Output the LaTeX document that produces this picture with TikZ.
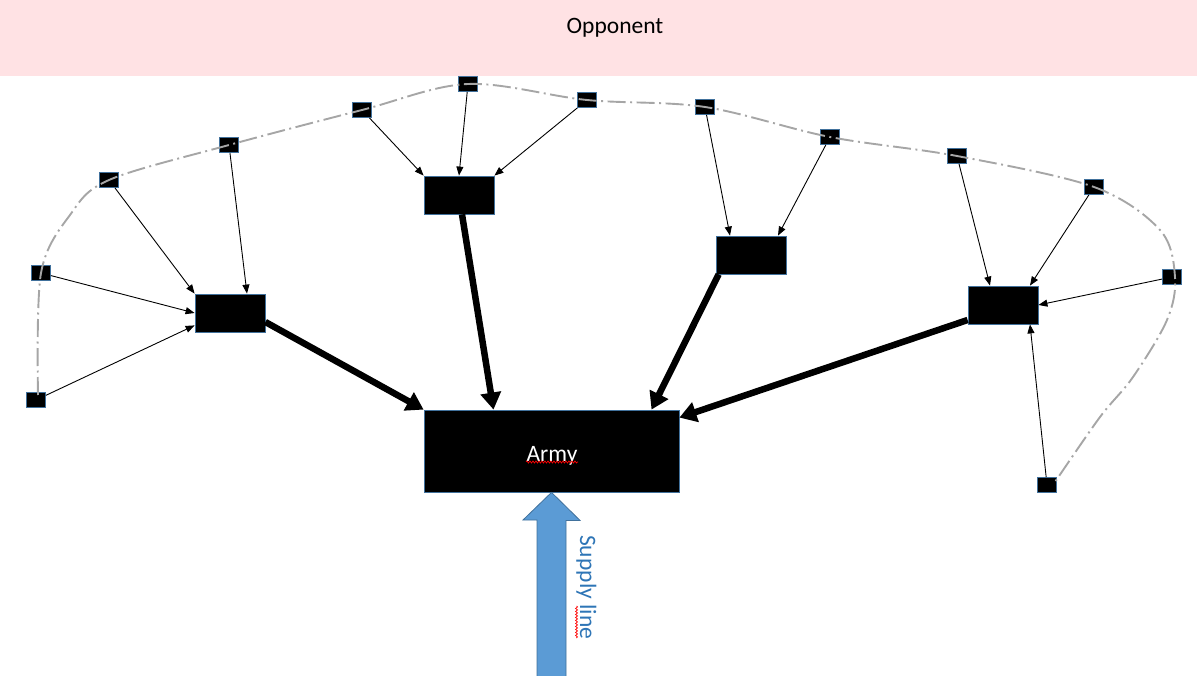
\documentclass[tikz,border=0pt]{standalone}
\usepackage{fontspec}
\setmainfont{Carlito}
\usetikzlibrary{arrows.meta,decorations.pathmorphing,calc}
\definecolor{bandpink}{RGB}{255,226,228}
\definecolor{boxblue}{RGB}{65,113,156}
\definecolor{curvegray}{RGB}{166,166,166}
\definecolor{supplyblue}{RGB}{91,155,213}
\definecolor{supplytext}{RGB}{46,117,182}
\begin{document}
\begin{tikzpicture}[x=1pt,y=-1pt,
  sq/.style={draw=boxblue,fill=black,line width=0.8pt,minimum width=19pt,minimum height=15pt,inner sep=0pt},
  mid/.style={draw=boxblue,fill=black,line width=0.8pt,minimum width=70pt,minimum height=38pt,inner sep=0pt},
  thin/.style={-{Triangle[length=9pt,width=7pt]},line width=0.9pt,black},
  thick/.style={-{Triangle[length=17pt,width=20pt]},line width=6.5pt,black},
  lbl/.style={font=\fontsize{23.5}{28}\selectfont},
  squig/.style={red,line width=0.7pt,decorate,decoration={snake,amplitude=1pt,segment length=3pt}}]
\useasboundingbox (0,0) rectangle (1197,676);
% opponent band
\fill[bandpink] (0,0) rectangle (1197,76);
\node[lbl] (opp) at (615,28) {Opponent};
% small squares
\node[sq] (s1) at (468,84) {};
\node[sq] (s2) at (362,110) {};
\node[sq] (s3) at (587,100) {};
\node[sq] (s4) at (705,107) {};
\node[sq] (s5) at (830,137) {};
\node[sq] (s6) at (957,156) {};
\node[sq] (s7) at (1094,187) {};
\node[sq] (s8) at (1172,277) {};
\node[sq] (s9) at (1047,485) {};
\node[sq] (s10) at (229,145) {};
\node[sq] (s11) at (109,180) {};
\node[sq] (s12) at (41,273) {};
\node[sq] (s13) at (36,400) {};
% dash-dot curve
\draw[curvegray,line width=1.9pt,dash pattern=on 18pt off 4.5pt on 2pt off 4.5pt]
  plot[smooth,tension=0.55] coordinates {(38,395) (41,273) (70,215) (109,180) (229,145) (362,110) (468,84) (587,100) (705,107) (830,137) (957,156) (1094,187) (1160,230) (1175,277) (1167,320) (1133,377) (1100,417) (1055,482)};
% medium boxes
\node[mid] (A) at (230,313) {};
\node[mid] (B) at (459,195) {};
\node[mid] (C) at (751,255) {};
\node[mid] (D) at (1003,305) {};
\node[draw=boxblue,fill=black,line width=0.8pt,minimum width=255pt,minimum height=82pt,inner sep=0pt,
  text=white,lbl] (army) at (551.5,451) {};
\node[text=white,lbl,anchor=base] (armytxt) at (552,461) {Army};
\draw[squig] (526,462) -- (578,462);
% thin arrows
\draw[thin] (s11) -- (A.north west);
\draw[thin] (s10) -- ([xshift=17pt]A.north);
\draw[thin] (s12) -- (A.west);
\draw[thin] (s13) -- ([yshift=7pt]A.south west);
\draw[thin] (s2) -- (B.north west);
\draw[thin] (s1) -- (B.north);
\draw[thin] (s3) -- (B.north east);
\draw[thin] (s4) -- ([xshift=-21pt]C.north);
\draw[thin] (s5) -- ([xshift=27pt]C.north);
\draw[thin] (s6) -- ([xshift=-13pt]D.north);
\draw[thin] (s7) -- ([xshift=27pt]D.north);
\draw[thin] (s8) -- (D.east);
\draw[thin] (s9) -- ([xshift=27pt]D.south);
% thick arrows
\draw[thick] ([yshift=-9pt]A.east) -- (army.north west);
\draw[thick] ([xshift=3pt]B.south) -- ([xshift=-58pt]army.north);
\draw[thick] ([xshift=3pt]C.south west) -- ([xshift=100pt]army.north);
\draw[thick] ([yshift=-15pt]D.west) -- ([yshift=-8pt]army.north east);
% supply line
\draw[boxblue,fill=supplyblue,line width=0.8pt] (army.south) -- ++(28.5,28) -- ++(-14,0) -- (566,677) -- (537,677) -- (537,520) -- (523,520) -- cycle;
\node[rotate=-90,anchor=base west,inner sep=0pt,text=supplytext,lbl] (sup) at (580,535) {Supply line};
\draw[squig] (576.5,606) -- (576.5,638);
\end{tikzpicture}
\end{document}
